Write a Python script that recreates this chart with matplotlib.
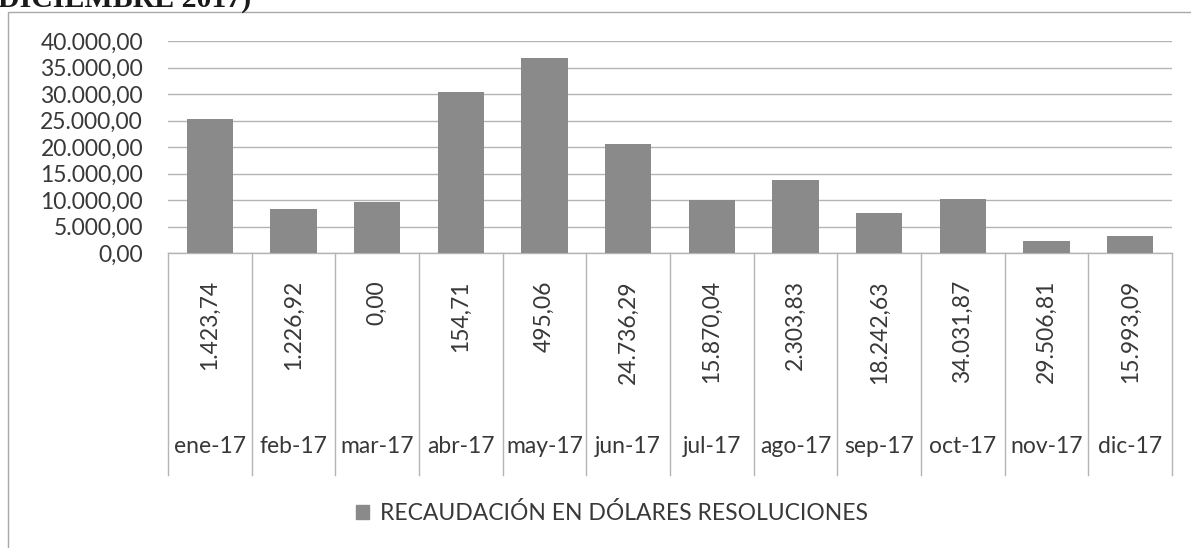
import matplotlib
matplotlib.use("Agg")
import matplotlib.pyplot as plt
from matplotlib.patches import Patch, Rectangle
from matplotlib.ticker import FuncFormatter, MultipleLocator

# data
meses = ["ene-17", "feb-17", "mar-17", "abr-17", "may-17", "jun-17",
         "jul-17", "ago-17", "sep-17", "oct-17", "nov-17", "dic-17"]
recaudacion = [25300, 8300, 9600, 30400, 36750, 20600,
               10000, 13750, 7500, 10200, 2300, 3200]
tabla_valores = [1423.74, 1226.92, 0.00, 154.71, 495.06, 24736.29,
                 15870.04, 2303.83, 18242.63, 34031.87, 29506.81, 15993.09]
serie = "RECAUDACIÓN EN DÓLARES RESOLUCIONES"
titulo = "DICIEMBRE 2017)"

W, H = 1191, 548
txt = "#383838"
grid = "#b4b4b4"
bar_col = "#8a8a8a"
fs = 16.5
plt.rcParams["font.family"] = ["Lato", "DejaVu Sans"]


def es_num(v, pos=None):
    # spanish number format 1.234,56
    s = f"{v:,.2f}"
    return s.replace(",", "_").replace(".", ",").replace("_", ".")


fig = plt.figure(figsize=(W / 100, H / 100), dpi=100)
fig.patch.set_facecolor("white")

# chart frame (clipped by figure edge on the right/bottom)
fig.add_artist(Rectangle((8 / W, -0.1), 1.2, 1 - 12 / H + 0.1, transform=fig.transFigure,
                         fill=False, edgecolor="#a8a8a8", linewidth=1.0))

# heading of the document, cut off at the top like in the scan
fig.text(-2 / W, 1 - 7 / H, titulo, family="Liberation Serif", weight="bold",
         fontsize=21.5, color="#1a1a1a", va="baseline", ha="left")

left, right, top, bottom = 168, 1172, 41, 253
ax = fig.add_axes([left / W, 1 - bottom / H, (right - left) / W, (bottom - top) / H])
ax.set_facecolor("none")

x = list(range(len(meses)))
ax.bar(x, recaudacion, width=0.55, color=bar_col, zorder=3)
ax.set_xlim(-0.5, len(meses) - 0.5)
ax.set_ylim(0, 40000)
ax.yaxis.set_major_locator(MultipleLocator(5000))
ax.yaxis.set_major_formatter(FuncFormatter(es_num))
ax.grid(axis="y", color=grid, linewidth=1.0, zorder=0)
ax.tick_params(axis="y", length=0, pad=18, labelsize=fs, labelcolor=txt)
ax.set_xticks([])
for s in ["left", "right", "top"]:
    ax.spines[s].set_visible(False)
ax.spines["bottom"].set_color(grid)
ax.spines["bottom"].set_linewidth(1.0)

# data table under the axis
ph = bottom - top
tabla_bottom = -(475 - bottom) / ph
tr = ax.get_xaxis_transform()
for i in range(len(meses) + 1):
    ax.plot([i - 0.5, i - 0.5], [0, tabla_bottom], transform=tr, color=grid,
            linewidth=1.0, clip_on=False)
for i, (m, v) in enumerate(zip(meses, tabla_valores)):
    ax.text(i, -(280 - bottom) / ph, es_num(v), transform=tr, rotation=90,
            ha="center", va="top", fontsize=fs, color=txt)
    ax.text(i, -(446 - bottom) / ph, m, transform=tr, ha="center", va="center",
            fontsize=fs, color=txt)

fig.legend(handles=[Patch(color=bar_col, label=serie)], loc="center",
           bbox_to_anchor=(612 / W, 1 - 513 / H), frameon=False, fontsize=fs,
           labelcolor=txt, handlelength=0.55, handleheight=0.55, handletextpad=0.5)

fig.savefig("out.png", dpi=100)
